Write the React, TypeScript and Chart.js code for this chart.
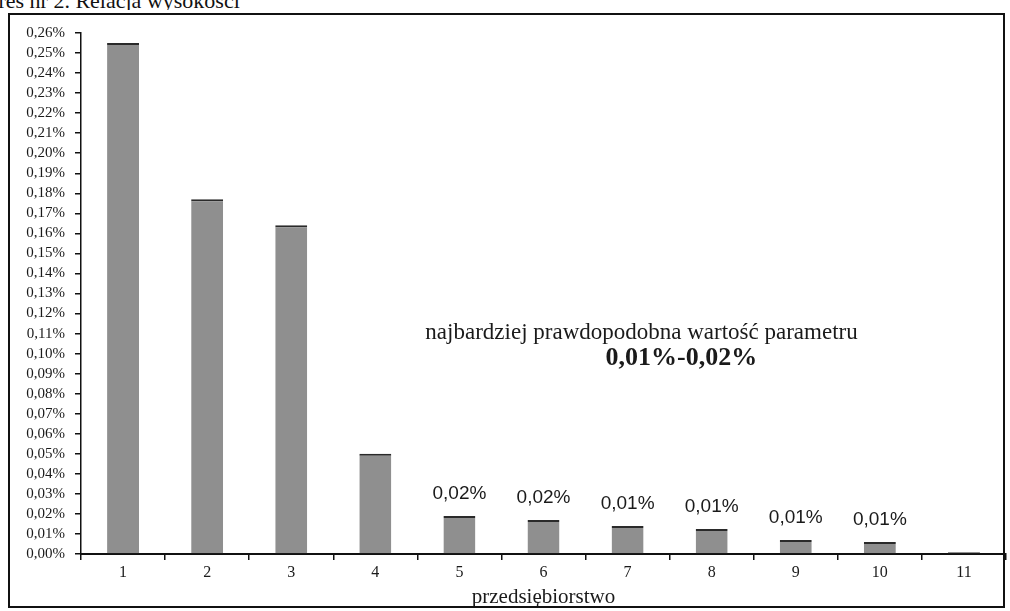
import React, { useEffect, useRef } from "react";
import { Chart, registerables } from "chart.js";

Chart.register(...registerables);

// ---- data ----
const categories = ["1", "2", "3", "4", "5", "6", "7", "8", "9", "10", "11"];
// values in percent units (0.255 => 0,255%)
const values = [0.255, 0.177, 0.164, 0.05, 0.019, 0.017, 0.014, 0.0125, 0.007, 0.006, 0.001];
const valueLabels = ["", "", "", "", "0,02%", "0,02%", "0,01%", "0,01%", "0,01%", "0,01%", ""];
const yMin = 0;
const yMax = 0.26;
const yStep = 0.01;
const xAxisTitle = "przedsiębiorstwo";
const noteLine1 = "najbardziej prawdopodobna wartość parametru";
const noteLine2 = "0,01%-0,02%";
const captionText = "Wykres nr 2. Relacja wysokości";

const SERIF = '"Liberation Serif", "Times New Roman", serif';
const SANS = '"Liberation Sans", Arial, sans-serif';

const labelPlugin = {
  id: "valueLabelsAndNote",
  afterDatasetsDraw(chart: any) {
    const ctx = chart.ctx;
    const meta = chart.getDatasetMeta(0);
    ctx.save();
    ctx.fillStyle = "#1a1a1a";
    ctx.textAlign = "center";
    ctx.textBaseline = "alphabetic";
    ctx.font = `19px ${SANS}`;
    meta.data.forEach((el: any, i: number) => {
      const t = valueLabels[i];
      if (t) ctx.fillText(t, el.x, el.y - 17);
    });
    const { left, right, top, bottom } = chart.chartArea;
    const w = right - left;
    const h = bottom - top;
    ctx.textBaseline = "middle";
    ctx.font = `23px ${SERIF}`;
    ctx.fillText(noteLine1, left + w * 0.606, top + h * 0.576);
    ctx.font = `bold 26px ${SERIF}`;
    ctx.fillText(noteLine2, left + w * 0.649, top + h * 0.625);
    ctx.restore();
  },
};

export default function App() {
  const ref = useRef<HTMLCanvasElement | null>(null);

  useEffect(() => {
    if (!ref.current) return;
    const chart = new Chart(ref.current, {
      type: "bar",
      data: {
        labels: categories,
        datasets: [
          {
            data: values,
            backgroundColor: "#8f8f8f",
            borderColor: "#2a2a2a",
            borderWidth: { top: 2, left: 0, right: 0, bottom: 0 },
            borderSkipped: "start",
            barPercentage: 0.38,
            categoryPercentage: 1,
          },
        ],
      },
      plugins: [labelPlugin],
      options: {
        responsive: false,
        animation: false,
        layout: { padding: { left: 0, top: 33, right: 4, bottom: 0 } },
        plugins: {
          legend: { display: false },
          tooltip: { enabled: false },
          title: { display: false },
        },
        scales: {
          x: {
            offset: true,
            afterFit: (s: any) => {
              s.height = 57;
            },
            border: { display: true, color: "#111", width: 2 },
            grid: {
              display: true,
              drawOnChartArea: false,
              drawTicks: true,
              tickLength: 6,
              color: "#111",
              lineWidth: 1.5,
              offset: true,
            },
            ticks: {
              color: "#1a1a1a",
              font: { family: SERIF, size: 16 },
              padding: 3,
              maxRotation: 0,
            },
            title: {
              display: true,
              text: xAxisTitle,
              color: "#1a1a1a",
              font: { family: SERIF, size: 21 },
              padding: { top: 0, bottom: 1 },
            },
          },
          y: {
            min: yMin,
            max: yMax,
            afterFit: (s: any) => {
              s.width = 81;
            },
            border: { display: true, color: "#111", width: 1.5 },
            grid: {
              display: true,
              drawOnChartArea: false,
              drawTicks: true,
              tickLength: 6,
              color: "#111",
              lineWidth: 1.5,
            },
            ticks: {
              stepSize: yStep,
              autoSkip: false,
              color: "#1a1a1a",
              padding: 10,
              font: { family: SERIF, size: 15 },
              callback: (v: any) => Number(v).toFixed(2).replace(".", ",") + "%",
            },
          },
        },
      },
    });
    return () => chart.destroy();
  }, []);

  return (
    <div style={{ position: "absolute", left: 0, top: 0, width: 1010, height: 611, background: "#fff", overflow: "hidden" }}>
      <div
        style={{
          position: "absolute",
          left: 0,
          top: 0,
          height: 10,
          width: 600,
          overflow: "hidden",
        }}
      >
        <div
          style={{
            position: "absolute",
            left: -43,
            top: -12,
            whiteSpace: "nowrap",
            fontFamily: SERIF,
            fontSize: 22,
            lineHeight: "26px",
            color: "#111",
          }}
        >
          {captionText}
        </div>
      </div>
      <canvas ref={ref} width={1010} height={611} style={{ position: "absolute", left: 0, top: 0, width: 1010, height: 611 }} />
      <div
        style={{
          position: "absolute",
          left: 8,
          top: 13,
          width: 997,
          height: 595,
          boxSizing: "border-box",
          border: "2px solid #111",
          pointerEvents: "none",
        }}
      />
    </div>
  );
}
